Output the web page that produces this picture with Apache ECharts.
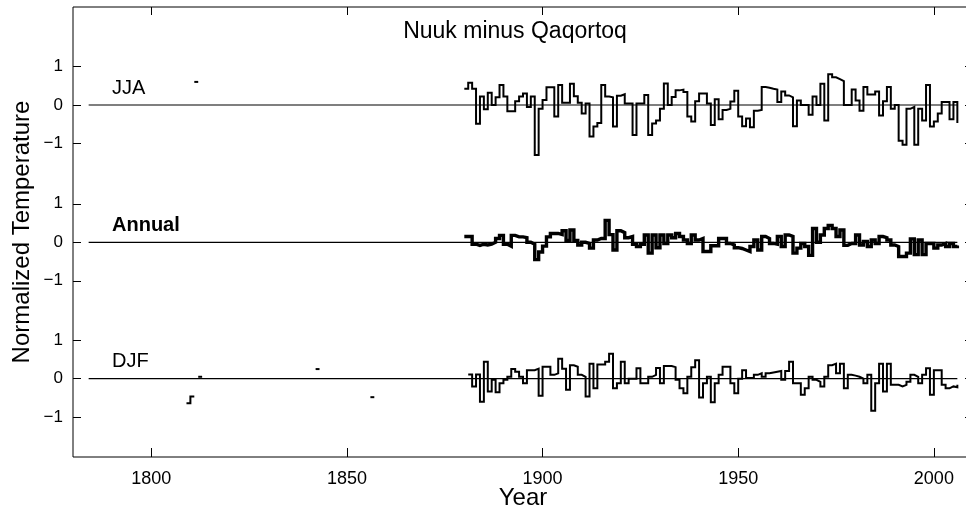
<!DOCTYPE html>
<html>
<head>
<meta charset="utf-8">
<script src="https://cdn.jsdelivr.net/npm/echarts@6/dist/echarts.min.js"></script>
<style>
  html, body { margin: 0; padding: 0; background: #fff; overflow: hidden; }
  /* the box's right edge sits just past the visible area */
  #chart { width: 973px; height: 512px; }
</style>
</head>
<body>
<div id="chart"></div>
<script>
// Year axis
const yearMin = 1780;
const yearMax = 2010;
const yearTicks = [1800, 1850, 1900, 1950, 2000];
const tempTicks = [-1, 0, 1];

// Reference line at zero, drawn in each panel
const zeroLineYears = [1784, 2006];

// Yearly records; each value is held until the next year (the last one closes the record)
const jjaStart = 1880;
const jja = [
  0.42, 0.58, 0.42, -0.49, 0.22, -0.11, 0.32, 0.0, 0.2, 0.52,
  0.22, -0.16, -0.16, 0.1, 0.22, 0.3, -0.05, 0.22, -1.3, -0.1,
  0.13, 0.46, 0.46, -0.3, 0.52, 0.06, 0.06, 0.55, 0.23, 0.06,
  -0.22, 0.04, -0.82, -0.56, -0.47, 0.52, 0.22, 0.2, -0.56, 0.24,
  0.28, 0.04, 0.04, -0.78, 0.04, 0.04, 0.26, -0.78, -0.48, -0.4,
  -0.1, 0.56, 0.0, 0.21, 0.38, 0.4, 0.34, -0.3, -0.43, 0.1,
  0.3, 0.3, 0.04, -0.52, 0.15, -0.37, -0.13, -0.1, 0.09, 0.37,
  -0.3, -0.55, -0.35, -0.58, -0.15, -0.13, 0.47, 0.45, 0.42, 0.4,
  0.08, 0.35, 0.25, 0.2, -0.55, 0.12, 0.0, 0.0, -0.25, 0.22,
  0.0, 0.55, -0.4, 0.8, 0.72, 0.67, 0.62, 0.0, 0.0, 0.4,
  0.12, -0.15, 0.47, 0.27, 0.27, 0.35, -0.27, 0.1, 0.47, -0.1,
  0.0, -0.93, -1.03, -0.1, -0.05, -1.03, -0.1, -0.4, 0.52, -0.56,
  -0.43, -0.22, 0.08, 0.08, -0.37, 0.08, -0.47
];

const annualStart = 1880;
const annual = [
  0.15, 0.15, -0.05, -0.08, -0.05, -0.07, -0.05, 0.0, 0.1, 0.18,
  -0.05, -0.1, 0.18, 0.14, 0.14, 0.12, 0.0, -0.05, -0.45, -0.25,
  -0.1, 0.14, 0.23, 0.23, 0.2, 0.3, 0.05, 0.32, 0.05, -0.07,
  0.0, -0.03, -0.15, 0.06, 0.1, 0.1, 0.57, 0.2, -0.2, 0.3,
  0.25, 0.12, 0.15, -0.05, -0.11, -0.05, 0.19, -0.28, 0.19, -0.14,
  0.19, -0.03, 0.19, 0.12, 0.23, 0.15, 0.06, -0.03, 0.19, 0.06,
  0.1, -0.24, -0.24, -0.09, -0.09, 0.1, 0.1, -0.03, -0.07, -0.14,
  -0.16, -0.2, -0.24, -0.11, 0.06, -0.2, 0.15, 0.1, -0.03, -0.05,
  0.15, -0.11, 0.19, 0.15, -0.28, -0.15, -0.03, -0.11, -0.34, 0.36,
  0.0, 0.19, 0.36, 0.44, 0.36, 0.15, 0.32, -0.08, -0.03, -0.03,
  0.19, -0.07, 0.02, -0.11, 0.06, -0.03, 0.15, 0.12, 0.06, -0.07,
  -0.11, -0.37, -0.37, -0.28, 0.09, -0.32, 0.06, -0.32, -0.03, -0.03,
  -0.15, -0.07, -0.03, -0.11, -0.03, -0.11, -0.08
];

const djfStart = 1881;
const djf = [
  0.11, -0.2, 0.11, -0.6, 0.44, -0.33, -0.03, -0.35, -0.12,
  -0.03, 0.05, 0.25, 0.18, 0.05, -0.12, 0.22, 0.22, 0.26, -0.44,
  0.31, 0.31, 0.1, 0.14, 0.52, 0.26, -0.29, 0.35, 0.31, 0.1,
  0.05, -0.46, 0.39, -0.25, 0.37, 0.37, 0.44, 0.65, -0.25, -0.12,
  0.44, -0.12, 0.0, 0.0, 0.27, -0.12, -0.12, 0.05, 0.1, 0.28,
  -0.12, 0.33, 0.33, 0.3, -0.03, -0.25, -0.38, 0.05, 0.3, 0.48,
  -0.49, -0.12, 0.05, -0.61, -0.12, 0.1, 0.31, 0.31, -0.12, -0.38,
  0.0, 0.22, 0.02, 0.02, 0.1, 0.14, 0.05, 0.14, 0.16, 0.18,
  0.2, -0.03, 0.2, 0.44, -0.12, -0.12, -0.42, -0.25, 0.05, -0.03,
  -0.08, -0.2, 0.05, 0.35, 0.39, 0.14, 0.39, -0.25, 0.1, 0.08,
  0.05, 0.0, -0.12, 0.1, -0.83, -0.12, 0.39, -0.33, 0.39, -0.16,
  -0.16, -0.2, -0.16, -0.08, 0.1, 0.05, -0.12, 0.1, 0.27, -0.42,
  0.22, 0.22, -0.16, -0.25, -0.2, -0.22, -0.16
];

// Early scattered observations
const jjaEarlyYears = [1811];
const jjaEarlyValues = [0.6];
const djfEarlyYears = [1809, 1810, 1812, 1842, 1856];
const djfEarlyValues = [-0.64, -0.46, 0.05, 0.25, -0.48];

function seq(start, n) { return Array.from({ length: n }, (_, i) => start + i); }

// Split a yearly record into runs of consecutive years. A value followed by a gap
// is still held for its full year; the very last value only closes the line.
function stairRuns(years, values) {
  const runs = [];
  let cur = null;
  for (let i = 0; i < years.length; i++) {
    const y = years[i];
    if (!cur || years[i - 1] !== y - 1) { cur = []; runs.push(cur); }
    cur.push([y, values[i]]);
    if (i < years.length - 1 && years[i + 1] !== y + 1) cur.push([y + 1, values[i]]);
  }
  return runs;
}

const jjaRuns = stairRuns(jjaEarlyYears.concat(seq(jjaStart, jja.length)), jjaEarlyValues.concat(jja));
const annualRuns = stairRuns(seq(annualStart, annual.length), annual);
const djfRuns = stairRuns(djfEarlyYears.concat(seq(djfStart, djf.length)), djfEarlyValues.concat(djf));

// Layout of the plot box and the three stacked panels
const L = 73, R = 0, TOP = 7, BOTTOM = 55;
const unit = 38.5;          // pixels per degree
const half = 1.78;          // each panel spans -half .. +half
const panelH = 2 * half * unit;
const centers = [105, 242.3, 378.7];

const FONT = 'Liberation Sans, Arial, Helvetica, sans-serif';
const fmtTemp = v => (v < 0 ? '\u2212' + Math.abs(v) : String(v));

const grids = [{ left: L, right: R, top: TOP, bottom: BOTTOM, show: true, borderColor: '#000', borderWidth: 1, backgroundColor: 'transparent' }];
centers.forEach(c => grids.push({ left: L, right: R, top: c - panelH / 2, height: panelH }));

const tickStyle = { color: '#000', width: 1 };
const xAxes = [
  {
    gridIndex: 0, type: 'value', min: yearMin, max: yearMax, position: 'bottom',
    axisLine: { show: false }, splitLine: { show: false },
    axisTick: { show: true, inside: true, length: 9, customValues: yearTicks, lineStyle: tickStyle },
    axisLabel: { show: true, customValues: yearTicks, formatter: v => String(v), color: '#000', fontSize: 18, fontFamily: FONT, margin: 13 }
  },
  {
    gridIndex: 0, type: 'value', min: yearMin, max: yearMax, position: 'top',
    axisLine: { show: false }, splitLine: { show: false },
    axisTick: { show: true, inside: true, length: 8, customValues: yearTicks, lineStyle: tickStyle },
    axisLabel: { show: false }
  }
];
const yAxes = [
  { gridIndex: 0, type: 'value', min: 0, max: 1, show: false }
];
for (let g = 1; g <= 3; g++) {
  xAxes.push({ gridIndex: g, type: 'value', min: yearMin, max: yearMax, show: false });
  yAxes.push({
    gridIndex: g, type: 'value', min: -half, max: half, position: 'left',
    axisLine: { show: false }, splitLine: { show: false },
    axisTick: { show: true, inside: true, length: 8, customValues: tempTicks, lineStyle: tickStyle },
    axisLabel: { show: true, customValues: tempTicks, formatter: fmtTemp, color: '#000', fontSize: 17, fontFamily: FONT, margin: 10 }
  });
  yAxes.push({
    gridIndex: g, type: 'value', min: -half, max: half, position: 'right',
    axisLine: { show: false }, splitLine: { show: false },
    axisTick: { show: true, inside: true, length: 8, customValues: tempTicks, lineStyle: tickStyle },
    axisLabel: { show: false }
  });
}

function zeroLine(g) {
  return {
    type: 'line', xAxisIndex: g + 1, yAxisIndex: 2 * g - 1, silent: true, symbol: 'none',
    data: zeroLineYears.map(y => [y, 0]),
    lineStyle: { color: '#000', width: 1.2 }, z: 2
  };
}
function stepSeries(g, name, runs, width) {
  return runs.map(run => ({
    type: 'line', name, xAxisIndex: g + 1, yAxisIndex: 2 * g - 1, step: 'end', symbol: 'none',
    data: run, clip: false,
    lineStyle: { color: '#000', width, join: 'miter', cap: 'butt' }, z: 3
  }));
}

const option = {
  animation: false,
  backgroundColor: '#fff',
  textStyle: { fontFamily: FONT },
  grid: grids,
  xAxis: xAxes,
  yAxis: yAxes,
  series: [
    zeroLine(1), zeroLine(2), zeroLine(3),
    ...stepSeries(1, 'JJA', jjaRuns, 2),
    ...stepSeries(2, 'Annual', annualRuns, 3.4),
    ...stepSeries(3, 'DJF', djfRuns, 2)
  ],
  graphic: [
    { type: 'text', x: 515, y: 32, style: { text: 'Nuuk minus Qaqortoq', fontSize: 23, fontFamily: FONT, fill: '#000', textAlign: 'center', textVerticalAlign: 'middle' } },
    { type: 'text', x: 112, y: 88, style: { text: 'JJA', fontSize: 20, fontFamily: FONT, fill: '#000', textAlign: 'left', textVerticalAlign: 'middle' } },
    { type: 'text', x: 112, y: 225, style: { text: 'Annual', fontSize: 20, fontWeight: 'bold', fontFamily: FONT, fill: '#000', textAlign: 'left', textVerticalAlign: 'middle' } },
    { type: 'text', x: 112, y: 361, style: { text: 'DJF', fontSize: 20, fontFamily: FONT, fill: '#000', textAlign: 'left', textVerticalAlign: 'middle' } },
    { type: 'text', x: 523, y: 498, style: { text: 'Year', fontSize: 24, fontFamily: FONT, fill: '#000', textAlign: 'center', textVerticalAlign: 'middle' } },
    { type: 'text', x: 22, y: 232, rotation: Math.PI / 2, style: { text: 'Normalized Temperature', fontSize: 24, fontFamily: FONT, fill: '#000', textAlign: 'center', textVerticalAlign: 'middle' } }
  ]
};

const chart = echarts.init(document.getElementById('chart'), null, { renderer: 'canvas' });
chart.setOption(option);
</script>
</body>
</html>
